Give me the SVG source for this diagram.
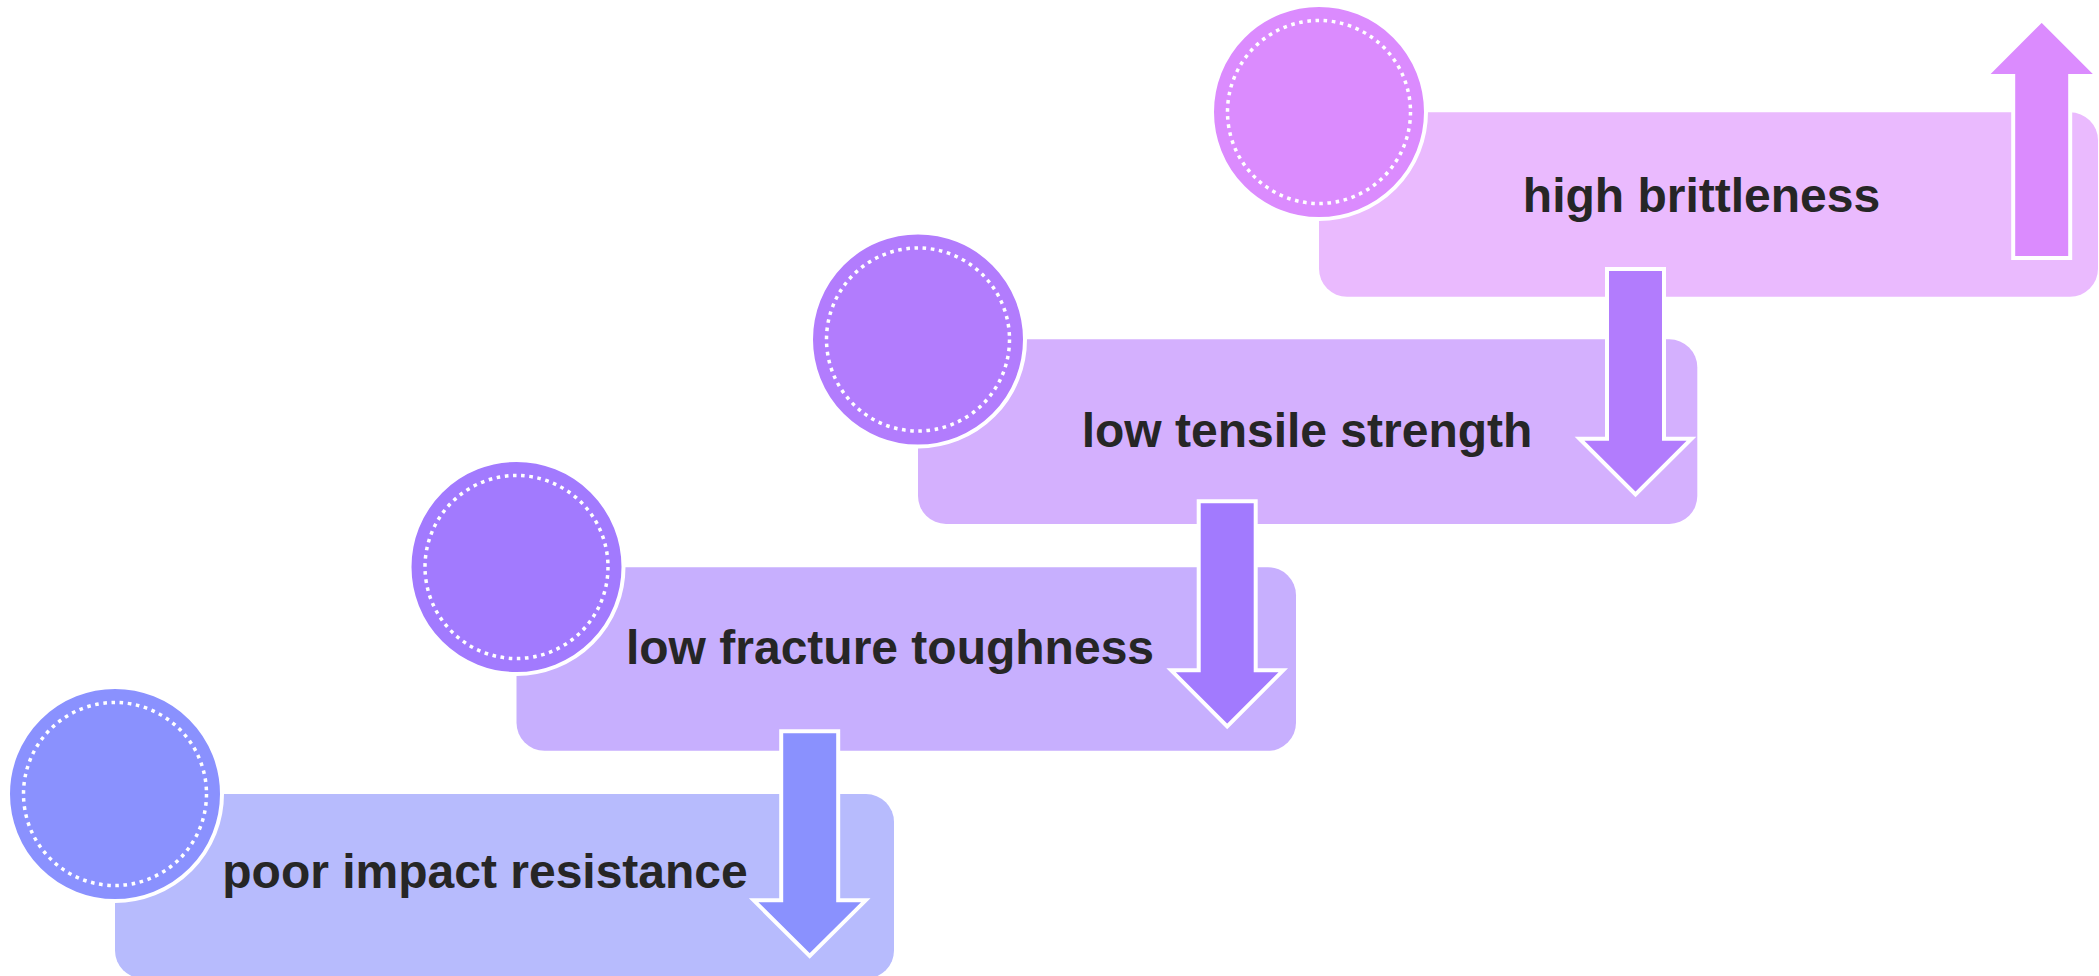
<svg xmlns="http://www.w3.org/2000/svg" width="2099" height="976" viewBox="0 0 2099 976">
  <style>
    .lbl { font-family: "Liberation Sans", Arial, sans-serif; font-size: 48px; font-weight: bold; fill: #262626; text-anchor: middle; }
    .ring { stroke: #FFFFFF; stroke-width: 4; }
    .dots { fill: none; stroke: #FFFFFF; stroke-width: 3.5; stroke-dasharray: 3.6 4.61; }
    .arrow { stroke: #FFFFFF; stroke-width: 4; stroke-linejoin: miter; }
  </style>
  <rect width="2099" height="976" fill="#FFFFFF"/>

  <g id="node-high-brittleness">
    <rect x="1319" y="112.3" width="779" height="184.5" rx="28" ry="28" fill="#EABAFE"/>
    <circle cx="1319" cy="112" r="107" class="ring" fill="#DB8BFE"/>
    <circle cx="1319" cy="112" r="91.5" class="dots"/>
    <text x="1701.5" y="211.5" class="lbl">high brittleness</text>
  </g>

  <g id="node-low-tensile-strength">
    <rect x="918" y="339.3" width="779.3" height="184.7" rx="28" ry="28" fill="#D4B0FE"/>
    <circle cx="918" cy="339.5" r="107" class="ring" fill="#B27CFD"/>
    <circle cx="918" cy="339.5" r="91.5" class="dots"/>
    <text x="1307" y="446.7" class="lbl">low tensile strength</text>
  </g>

  <g id="node-low-fracture-toughness">
    <rect x="516.5" y="567.2" width="779.5" height="183.6" rx="28" ry="28" fill="#C7AFFE"/>
    <circle cx="516.5" cy="567" r="107" class="ring" fill="#A27AFE"/>
    <circle cx="516.5" cy="567" r="91.5" class="dots"/>
    <text x="890" y="664.3" class="lbl">low fracture toughness</text>
  </g>

  <g id="node-poor-impact-resistance">
    <rect x="115" y="794" width="779" height="184.5" rx="28" ry="28" fill="#B7BBFD"/>
    <circle cx="115" cy="794" r="107" class="ring" fill="#8A91FE"/>
    <circle cx="115" cy="794" r="91.5" class="dots"/>
    <text x="485" y="888.3" class="lbl">poor impact resistance</text>
  </g>

  <g id="connectors">
    <path class="arrow" fill="#DB8BFE" d="M2013.2,258 V76 H1985.7 L2041.7,20 L2097.7,76 H2070.2 V258 Z"/>
    <path class="arrow" fill="#B27CFD" d="M1607,269 H1664 V438.7 H1691.5 L1635.5,494.5 L1579.5,438.7 H1607 Z"/>
    <path class="arrow" fill="#A27AFE" d="M1198.7,501.3 H1255.7 V670.3 H1283.2 L1227.2,726.3 L1171.2,670.3 H1198.7 Z"/>
    <path class="arrow" fill="#8A91FE" d="M781.2,731.3 H838.2 V900.3 H865.7 L809.7,956 L753.7,900.3 H781.2 Z"/>
  </g>
</svg>
